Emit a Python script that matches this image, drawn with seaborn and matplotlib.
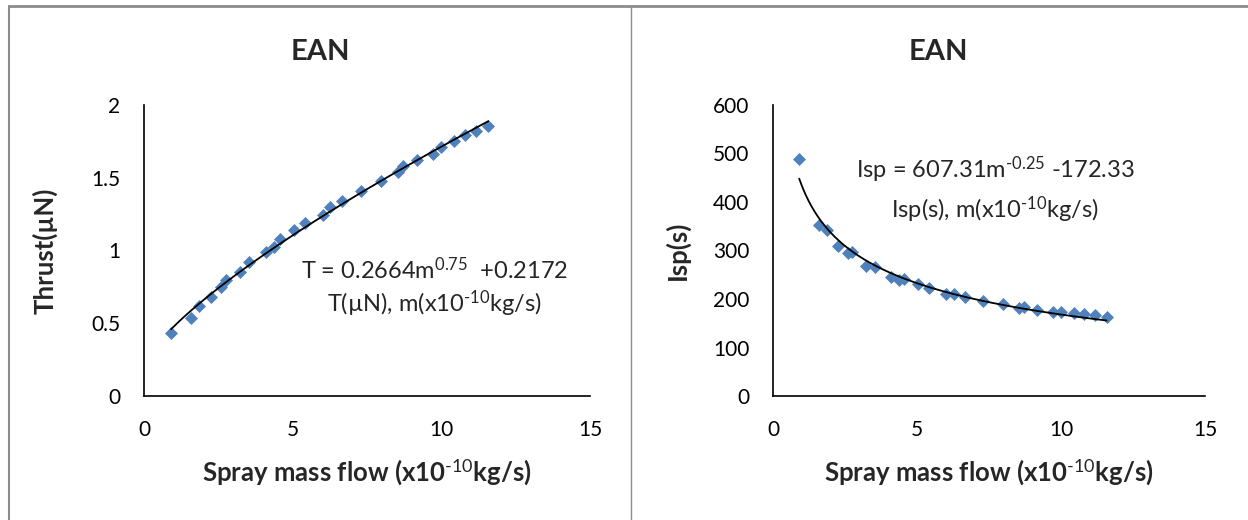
import numpy as np
import pandas as pd
import matplotlib
matplotlib.use("Agg")
import matplotlib.pyplot as plt
from matplotlib.lines import Line2D
import seaborn as sns

# ---- data ----
mass_flow = [0.91, 1.58, 1.86, 2.24, 2.59, 2.75, 3.23, 3.53, 4.09, 4.36, 4.56,
             5.03, 5.42, 6.02, 6.27, 6.66, 7.29, 7.97, 8.54, 8.72, 9.18, 9.73,
             10.0, 10.44, 10.8, 11.17, 11.58]
thrust = [0.436, 0.539, 0.619, 0.677, 0.750, 0.796, 0.849, 0.918, 0.987, 1.025,
          1.076, 1.138, 1.186, 1.243, 1.296, 1.342, 1.408, 1.479, 1.539, 1.580,
          1.622, 1.665, 1.709, 1.752, 1.794, 1.823, 1.858]
isp = [488, 352, 343, 309, 294, 296, 268, 266, 246, 239, 241, 231, 222, 210,
       211, 204, 196, 189, 182, 184, 178, 173, 173, 171, 169, 167, 162]

titles = ["EAN", "EAN"]
xlabel = r"Spray mass flow (x10$^{\mathbf{\text{-10}}}$kg/s)"
ylabels = ["Thrust(\u00b5N)", "Isp(s)"]
x_ticks = [0, 5, 10, 15]
y_ticks_left = [0, 0.5, 1, 1.5, 2]
y_tick_labels_left = ["0", "0.5", "1", "1.5", "2"]
y_ticks_right = [0, 100, 200, 300, 400, 500, 600]
eq_left = [r"T = 0.2664m$^{\text{0.75}}$  +0.2172", "T(\u00b5N), m(x10$^{\\text{-10}}$kg/s)"]
eq_right = [r"Isp = 607.31m$^{\text{-0.25}}$ -172.33", r"Isp(s), m(x10$^{\text{-10}}$kg/s)"]
exp_left = 0.75
exp_right = -0.25

df = pd.DataFrame({"m": mass_flow, "T": thrust, "Isp": isp})

sns.set_style("white")
plt.rcParams["font.family"] = ["Lato", "DejaVu Sans"]
plt.rcParams["mathtext.fontset"] = "custom"
plt.rcParams["mathtext.rm"] = "Lato"
plt.rcParams["mathtext.it"] = "Lato:italic"
plt.rcParams["mathtext.bf"] = "Lato:bold"
plt.rcParams["axes.unicode_minus"] = False

W, H = 1248, 520
fig = plt.figure(figsize=(W / 100, H / 100), dpi=100)

ax1 = fig.add_axes([144 / W, 1 - 396 / H, 446 / W, 291 / H])
ax2 = fig.add_axes([773 / W, 1 - 396 / H, 432 / W, 291 / H])

blue = "#4F81BD"

def fit_curve(m, y, p):
    m = np.asarray(m, float)
    a, b = np.polyfit(m ** p, np.asarray(y, float), 1)
    xs = np.linspace(m.min(), m.max(), 200)
    return xs, a * xs ** p + b

for ax, ycol, p in [(ax1, "T", exp_left), (ax2, "Isp", exp_right)]:
    xs, ys = fit_curve(df["m"], df[ycol], p)
    sns.scatterplot(data=df, x="m", y=ycol, ax=ax, marker="D", s=44,
                    color=blue, edgecolor=blue, linewidth=0, zorder=3)
    sns.lineplot(x=xs, y=ys, ax=ax, color="black", lw=1.3, zorder=4)
    ax.set_xlim(0, 15)
    ax.set_xticks(x_ticks)
    ax.set_xticklabels([str(t) for t in x_ticks])
    for s in ["top", "right"]:
        ax.spines[s].set_visible(False)
    for s in ["left", "bottom"]:
        ax.spines[s].set_color("black")
        ax.spines[s].set_linewidth(1.2)
    ax.tick_params(axis="both", length=0, pad=17, labelsize=15, colors="black")
    ax.set_xlabel(xlabel, fontsize=18.5, fontweight="bold", labelpad=12)
    ax.grid(False)

ax1.set_ylim(0, 2)
ax1.set_yticks(y_ticks_left)
ax1.set_yticklabels(y_tick_labels_left)
ax1.set_ylabel(ylabels[0], fontsize=18.5, fontweight="bold", labelpad=24)
ax2.set_ylim(0, 600)
ax2.set_yticks(y_ticks_right)
ax2.set_yticklabels([str(t) for t in y_ticks_right])
ax2.set_ylabel(ylabels[1], fontsize=18.5, fontweight="bold", labelpad=17)

# equations
ax1.text(0.652, 0.433, eq_left[0], transform=ax1.transAxes, ha="center", va="center", fontsize=17)
ax1.text(0.652, 0.318, eq_left[1], transform=ax1.transAxes, ha="center", va="center", fontsize=17)
ax2.text(0.514, 0.777, eq_right[0], transform=ax2.transAxes, ha="center", va="center", fontsize=17)
ax2.text(0.514, 0.640, eq_right[1], transform=ax2.transAxes, ha="center", va="center", fontsize=17)

# titles (centered in each chart panel)
fig.text(320 / W, 1 - 52 / H, titles[0], ha="center", va="center", fontsize=21, fontweight="bold")
fig.text(938 / W, 1 - 52 / H, titles[1], ha="center", va="center", fontsize=21, fontweight="bold")

# chart frames
gray = "#8c8c8c"
fig.add_artist(Line2D([9 / W, 1], [1 - 6 / H, 1 - 6 / H], transform=fig.transFigure, color=gray, lw=2))
fig.add_artist(Line2D([9 / W, 9 / W], [0, 1 - 6 / H], transform=fig.transFigure, color=gray, lw=1.5))
fig.add_artist(Line2D([631 / W, 631 / W], [0, 1 - 6 / H], transform=fig.transFigure, color=gray, lw=1))

fig.savefig("out.png", dpi=100)
